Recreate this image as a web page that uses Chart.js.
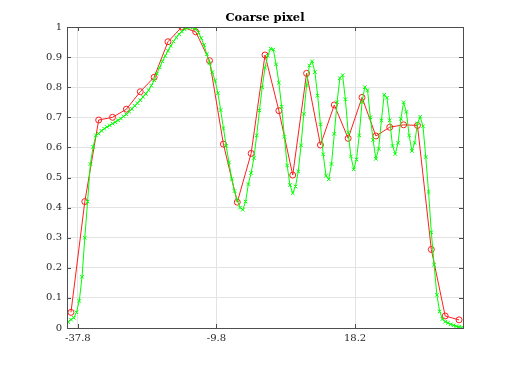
<!DOCTYPE html>
<html>
<head>
<meta charset="utf-8">
<script src="https://cdn.jsdelivr.net/npm/chart.js@4/dist/chart.umd.min.js"></script>
<style>
  html, body { margin: 0; padding: 0; background: #fff; }
  #wrap { width: 512px; height: 369px; }
</style>
</head>
<body>
<div id="wrap"><canvas id="grafica" width="512" height="369"></canvas></div>
<script>
// coarse pixel samples (red, circles)
var coarseX = [-39.2, -36.4, -33.6, -30.8, -28.0, -25.2, -22.4, -19.6, -16.8, -14.0,
    -11.2, -8.4, -5.6, -2.8, 0.0, 2.8, 5.6, 8.4, 11.2, 14.0,
    16.8, 19.6, 22.4, 25.2, 28.0, 30.8, 33.6, 36.4, 39.2];
var coarseY = [0.052, 0.42, 0.691, 0.70, 0.727, 0.785, 0.833, 0.951, 1.0, 0.984,
    0.888, 0.611, 0.418, 0.58, 0.907, 0.722, 0.508, 0.846, 0.608, 0.741,
    0.63, 0.766, 0.638, 0.667, 0.675, 0.673, 0.261, 0.04, 0.027];

// fine samples (green, crosses), one every 0.56 from -39.76 to 39.76
var fineStep = 0.56;
var fineY = [0.02, 0.028, 0.034, 0.052, 0.09, 0.17, 0.30, 0.42, 0.545, 0.602,
    0.64, 0.646, 0.655, 0.662, 0.668, 0.673, 0.679, 0.684, 0.69, 0.696,
    0.703, 0.71, 0.719, 0.728, 0.738, 0.747, 0.757, 0.768, 0.778, 0.79,
    0.805, 0.823, 0.845, 0.866, 0.886, 0.904, 0.921, 0.937, 0.952, 0.965,
    0.976, 0.985, 0.992, 0.997, 0.999, 0.998, 0.993, 0.982, 0.963, 0.94,
    0.91, 0.88, 0.85, 0.822, 0.78, 0.724, 0.664, 0.605, 0.55, 0.495,
    0.455, 0.425, 0.40, 0.393, 0.42, 0.478, 0.515, 0.565, 0.64, 0.723,
    0.80, 0.865, 0.905, 0.928, 0.925, 0.876, 0.815, 0.735, 0.635, 0.54,
    0.475, 0.448, 0.47, 0.52, 0.607, 0.711, 0.807, 0.872, 0.886, 0.85,
    0.772, 0.677, 0.577, 0.506, 0.494, 0.545, 0.645, 0.75, 0.83, 0.84,
    0.76, 0.65, 0.57, 0.527, 0.56, 0.64, 0.75, 0.80, 0.79, 0.70,
    0.625, 0.562, 0.595, 0.69, 0.775, 0.765, 0.69, 0.605, 0.578, 0.615,
    0.695, 0.75, 0.718, 0.64, 0.588, 0.615, 0.68, 0.702, 0.67, 0.568,
    0.452, 0.318, 0.21, 0.11, 0.055, 0.03, 0.021, 0.017, 0.012, 0.009,
    0.006, 0.004, 0.002];

var xTicks = [-37.8, -9.8, 18.2];
var yTicks = [0, 0.1, 0.2, 0.3, 0.4, 0.5, 0.6, 0.7, 0.8, 0.9, 1];

var puntosCoarse = coarseX.map(function (x, i) { return {x: x, y: coarseY[i]}; });
var puntosFine = fineY.map(function (y, i) {
    return {x: (i - (fineY.length - 1) / 2) * fineStep, y: y};
});

var fuente = "'DejaVu Serif', serif";

// ticks hacia dentro, estilo matlab, y el marco
var marcoPlugin = {
    id: 'marco',
    afterDatasetsDraw: function (chart) {
        var ctx = chart.ctx;
        var a = chart.chartArea;
        var sx = chart.scales.x, sy = chart.scales.y;
        ctx.save();
        ctx.strokeStyle = '#4d4d4d';
        ctx.lineWidth = 1;
        ctx.beginPath();
        xTicks.forEach(function (t) {
            var px = Math.round(sx.getPixelForValue(t)) + 0.5;
            ctx.moveTo(px, a.bottom); ctx.lineTo(px, a.bottom - 4);
            ctx.moveTo(px, a.top); ctx.lineTo(px, a.top + 4);
        });
        yTicks.forEach(function (t) {
            var py = Math.round(sy.getPixelForValue(t)) + 0.5;
            ctx.moveTo(a.left, py); ctx.lineTo(a.left + 4, py);
            ctx.moveTo(a.right, py); ctx.lineTo(a.right - 4, py);
        });
        ctx.stroke();
        ctx.strokeRect(Math.round(a.left) + 0.5, Math.round(a.top) + 0.5,
            Math.round(a.right - a.left), Math.round(a.bottom - a.top));
        ctx.restore();
    }
};

var chartData = {
    datasets: [{
            label: 'Fine',
            data: puntosFine,
            borderColor: 'rgb(0, 255, 0)',
            backgroundColor: 'rgb(0, 255, 0)',
            borderWidth: 1,
            pointStyle: 'crossRot',
            pointRadius: 2.5,
            pointBorderWidth: 1,
            order: 0
        }, {
            label: 'Coarse',
            data: puntosCoarse,
            borderColor: 'rgb(255, 30, 30)',
            backgroundColor: 'rgba(0, 0, 0, 0)',
            borderWidth: 1,
            pointStyle: 'circle',
            pointRadius: 3,
            pointBorderWidth: 1,
            order: 1
        }]
};

var chartOptions = {
    responsive: false,
    animation: false,
    layout: {padding: {left: 0, right: 49, top: 0, bottom: 0}},
    plugins: {
        legend: {display: false},
        tooltip: {enabled: false},
        title: {
            display: true,
            text: 'Coarse pixel',
            fullSize: false,
            color: '#000',
            font: {family: fuente, size: 11.5, weight: 'bold', lineHeight: 1.2},
            padding: {top: 11, bottom: 2.2}
        }
    },
    scales: {
        x: {
            type: 'linear',
            min: -40,
            max: 40,
            afterBuildTicks: function (scale) {
                scale.ticks = xTicks.map(function (v) { return {value: v}; });
            },
            afterFit: function (scale) { scale.height = 41; },
            ticks: {
                color: '#262626',
                font: {family: fuente, size: 10},
                padding: 4,
                maxRotation: 0,
                autoSkip: false,
                callback: function (v) { return v.toFixed(1); }
            },
            grid: {color: '#e3e3e3', drawTicks: false},
            border: {display: false}
        },
        y: {
            type: 'linear',
            min: 0,
            max: 1,
            afterBuildTicks: function (scale) {
                scale.ticks = yTicks.map(function (v) { return {value: v}; });
            },
            afterFit: function (scale) { scale.width = 67; },
            ticks: {
                color: '#262626',
                font: {family: fuente, size: 10},
                padding: 5,
                autoSkip: false,
                callback: function (v) { return String(Math.round(v * 10) / 10); }
            },
            grid: {color: '#e3e3e3', drawTicks: false},
            border: {display: false}
        }
    }
};

var grafica = new Chart('grafica', {
    type: 'line',
    data: chartData,
    options: chartOptions,
    plugins: [marcoPlugin]
});
</script>
</body>
</html>
